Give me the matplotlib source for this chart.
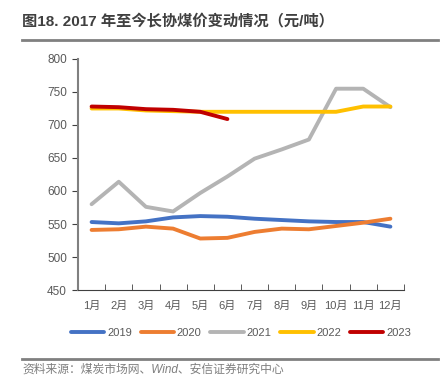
import matplotlib
matplotlib.use("Agg")
import matplotlib.pyplot as plt
import numpy as np

plt.rcParams['font.family'] = ['Liberation Sans', 'Noto Sans CJK SC']

months = ["1月", "2月", "3月", "4月", "5月", "6月", "7月", "8月", "9月", "10月", "11月", "12月"]
y2019 = [553, 551, 554, 560, 562, 561, 558, 556, 554, 553, 553, 546]
y2020 = [541, 542, 546, 543, 528, 529, 538, 543, 542, 547, 552, 558]
y2021 = [580, 614, 576, 569, 597, 622, 649, 663, 678, 755, 755, 727]
y2022 = [725, 725, 722, 721, 720, 720, 720, 720, 720, 720, 728, 728]
y2023 = [728, 727, 724, 723, 720, 709]

series = [("2019", y2019, "#4472C4"), ("2020", y2020, "#ED7D31"),
          ("2021", y2021, "#B4B4B4"), ("2022", y2022, "#FFC000"),
          ("2023", y2023, "#C00000")]

fig = plt.figure(figsize=(4.42, 3.92), dpi=100)
ax = fig.add_axes([0.1765, 0.2602, 0.7375, 0.5893])

x = np.arange(len(months))
for name, vals, col in series:
    ax.plot(x[:len(vals)], vals, color=col, lw=2.8, label=name, solid_capstyle="round")

ax.set_xlim(-0.5, 11.5)
ax.set_ylim(450, 800)
ax.set_yticks(range(450, 801, 50))
ax.set_xticks(x)
ax.set_xticklabels(months)
ax.set_xticks(np.arange(-0.5, 12, 1), minor=True)
ax.tick_params(axis="x", which="major", length=0, pad=8, labelsize=8, colors="#595959")
ax.tick_params(axis="x", which="minor", length=4, color="#404040", direction="in")
ax.tick_params(axis="y", length=4, color="#404040", labelsize=8.5, labelcolor="#595959", pad=4)
for s in ["top", "right"]:
    ax.spines[s].set_visible(False)
ax.spines["left"].set_color("#808080")
ax.spines["left"].set_linewidth(1.5)
ax.spines["bottom"].set_color("#404040")

ax.legend(loc="center", bbox_to_anchor=(0.5, -0.187), ncol=5, frameon=False,
          fontsize=8, handlelength=3.0, handletextpad=0.25, columnspacing=0.8,
          labelcolor="#595959")

fig.text(0.05, 0.935, "图18. 2017 年至今长协煤价变动情况（元/吨）", fontsize=11,
         fontweight="bold", color="#404040")
fig.add_artist(plt.Line2D([0.05, 0.99], [0.897, 0.897], color="#808080", lw=2))
fig.add_artist(plt.Line2D([0.05, 0.99], [0.085, 0.085], color="#808080", lw=2))
fig.text(0.05, 0.056, "资料来源：煤炭市场网、Wind、安信证券研究中心", fontsize=8.5,
         style="italic", color="#7f7f7f", va="center")

fig.savefig("out.png", dpi=100)
